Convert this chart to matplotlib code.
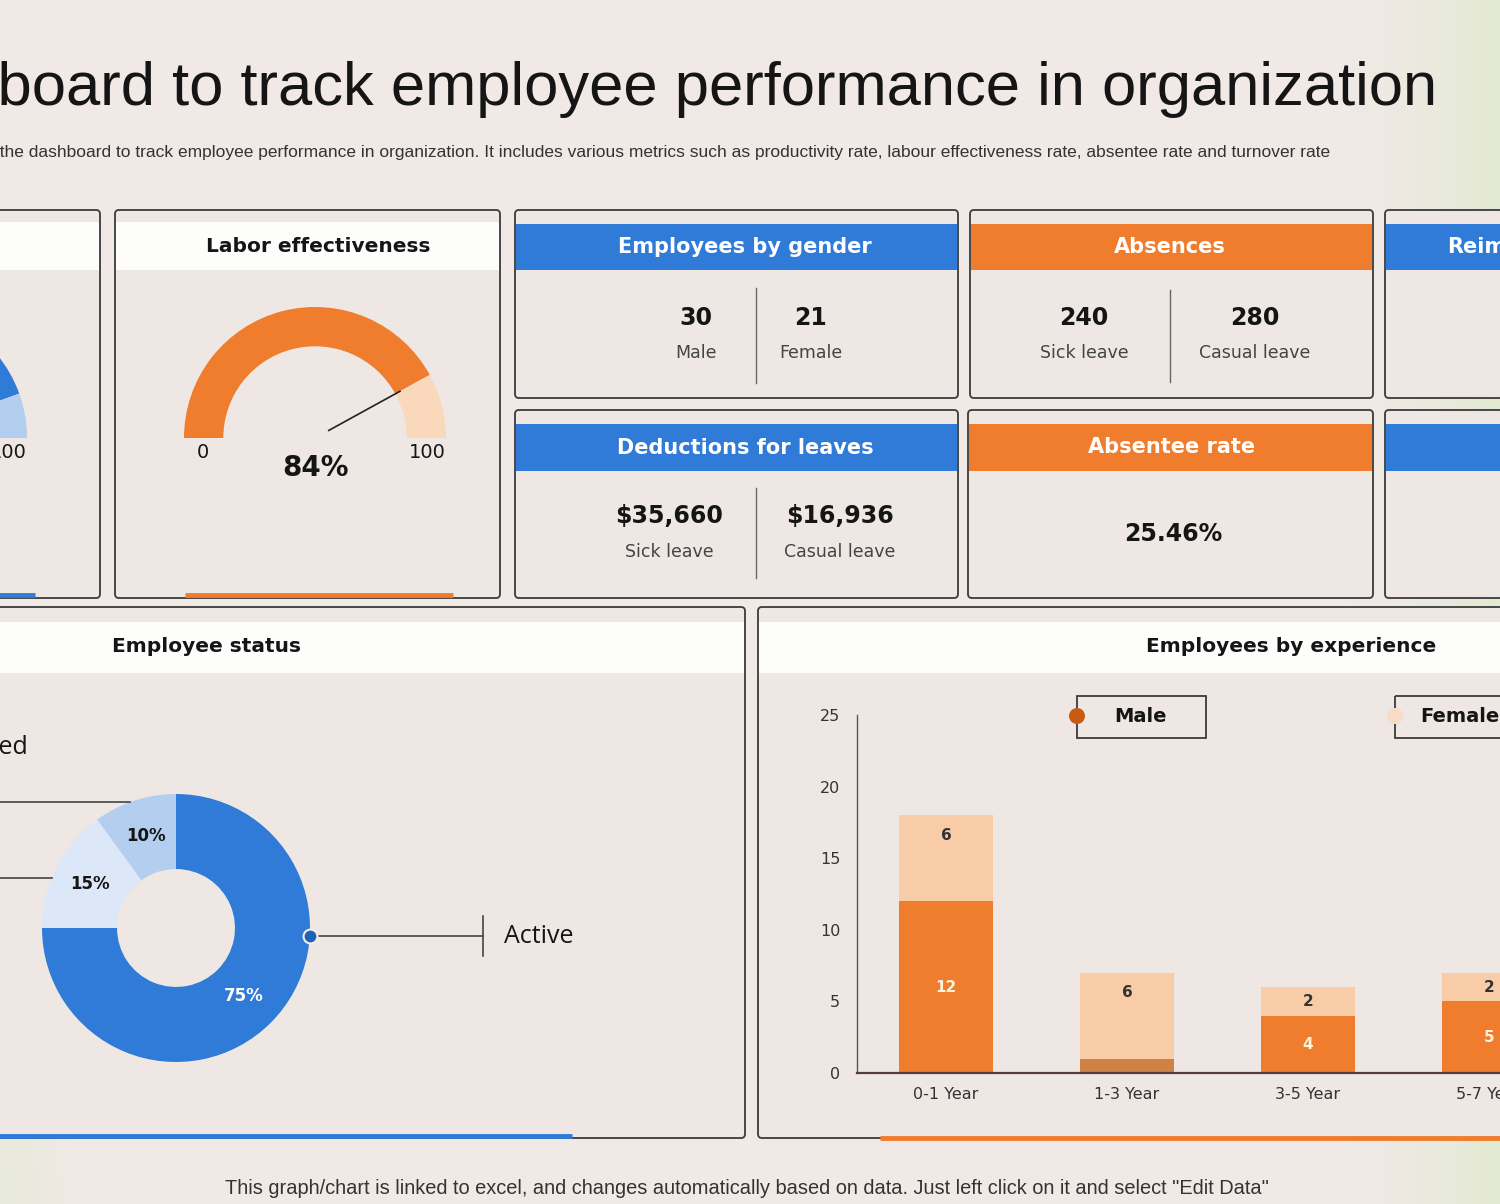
import numpy as np
import matplotlib
matplotlib.use('Agg')
import matplotlib.pyplot as plt
from matplotlib.patches import FancyBboxPatch, Rectangle, Circle
from matplotlib import font_manager as fm

W, H = 1500, 1204

# ----- chart data ----- #
title = "Dashboard to track employee performance in organization"
title_visible = "board to track employee performance in organization"
subtitle = ("This slide covers the dashboard to track employee performance in organization. It includes "
            "various metrics such as productivity rate, labour effectiveness rate, absentee rate and turnover rate")
footnote = ('This graph/chart is linked to excel, and changes automatically based on data. '
            'Just left click on it and select "Edit Data"')

productivity_rate = 89
labor_effectiveness = 84

gender_labels = ['Male', 'Female']
gender_counts = [30, 21]
absence_labels = ['Sick leave', 'Casual leave']
absence_days = [240, 280]
deduction_labels = ['Sick leave', 'Casual leave']
deduction_amounts = [35660, 16936]
absentee_rate = 25.46

status_labels = ['Active', 'On leave', 'Resigned']
status_share = [75, 15, 10]

exp_groups = ['0-1 Year', '1-3 Year', '3-5 Year', '5-7 Year']
exp_male = [12, 1, 4, 5]
exp_female = [6, 6, 2, 2]

# ----- colours ----- #
BLUE = '#2F7BD7'
BLUE_MID = '#B4CEF0'
BLUE_LIGHT = '#DCE7F7'
ORANGE = '#EF7D2D'
PEACH = '#F9CCA8'
GAUGE_REST = '#FAD8BC'
PANEL = '#EEE7E4'
EDGE = '#3b3b3b'
TXT = '#151515'
SUB = '#444444'

names = {f.name for f in fm.fontManager.ttflist}
NARROW = 'Liberation Sans Narrow' if 'Liberation Sans Narrow' in names else 'Liberation Sans'

fig = plt.figure(figsize=(15, 12.04), dpi=100)
bg = fig.add_axes([0, 0, 1, 1])

# background with greenish tint at the edges
X, Y = np.meshgrid(np.linspace(0, 1, 300), np.linspace(0, 1, 240))
base = np.array([240, 233, 230]) / 255
green = np.array([226, 234, 210]) / 255
wr = np.clip((X - 0.9) / 0.1, 0, 1) ** 1.5
wl = np.clip((0.05 - X) / 0.05, 0, 1) * np.clip((Y - 0.55) / 0.45, 0, 1)
w = np.maximum(wr, wl * 0.6)
img = base * (1 - w[..., None]) + green * w[..., None]
bg.imshow(img, extent=[0, W, H, 0], aspect='auto', zorder=0)
bg.set_xlim(0, W)
bg.set_ylim(H, 0)
bg.axis('off')


def panel(x0, y0, x1, y1):
    bg.add_patch(FancyBboxPatch((x0, y0), x1 - x0, y1 - y0,
                                boxstyle='round,pad=0,rounding_size=4',
                                fc=PANEL, ec=EDGE, lw=1.3, zorder=2))


def band(x0, x1, y0, y1, color, alpha=1.0):
    bg.add_patch(Rectangle((x0 + 1, y0), x1 - x0 - 2, y1 - y0, fc=color, ec='none',
                           alpha=alpha, zorder=3))


def accent(x0, x1, y, color):
    bg.plot([x0, x1], [y, y], color=color, lw=3.5, solid_capstyle='butt', zorder=4)


def px_axes(x0, y0, x1, y1):
    return fig.add_axes([x0 / W, 1 - y1 / H, (x1 - x0) / W, (y1 - y0) / H])


def unit_axes(x0, y0, x1, y1, cx, cy, r):
    ax = px_axes(x0, y0, x1, y1)
    ax.patch.set_alpha(0)
    return ax, ((x0 - cx) / r, (x1 - cx) / r), ((cy - y1) / r, (cy - y0) / r)


def fit_size(s, width_px, size, **kw):
    r = fig.canvas.get_renderer()
    t = bg.text(0, 0, s, fontsize=size, **kw)
    wpx = t.get_window_extent(r).width
    t.remove()
    return size * width_px / wpx


# ----- title ----- #
ts = fit_size(title_visible, 1437, 46, family=NARROW)
ts = min(max(ts, 38), 50)
bg.text(1437, 105, title, ha='right', va='baseline', fontsize=ts, family=NARROW, color=TXT, zorder=5)
bg.text(1330, 157, subtitle, ha='right', va='baseline', fontsize=12.5, family=NARROW, color='#333', zorder=5)
fs = fit_size(footnote, 1046, 12, family=NARROW)
bg.text(747, 1194, footnote, ha='center', va='baseline', fontsize=fs, family=NARROW, color='#333', zorder=5)

# ----- panel frames ----- #
panel(-300, 210, 100, 598)
panel(115, 210, 500, 598)
for (x0, x1) in [(515, 958), (970, 1373), (1385, 1800)]:
    panel(x0, 210, x1, 398)
for (x0, x1) in [(515, 958), (968, 1373), (1385, 1800)]:
    panel(x0, 410, x1, 598)
panel(-400, 607, 745, 1138)
panel(758, 607, 1900, 1138)

band(-300, 100, 222, 270, 'white', 0.92)
band(115, 500, 222, 270, 'white', 0.92)
band(-400, 745, 622, 673, 'white', 0.92)
band(758, 1900, 622, 673, 'white', 0.92)

accent(-238, 35, 595, BLUE)
accent(185, 453, 595, ORANGE)
accent(-400, 572, 1136, BLUE)
accent(880, 1900, 1138, ORANGE)

hdr = dict(ha='center', va='center', fontsize=15, fontweight='bold', color='white', zorder=6)
dark_hdr = dict(ha='center', va='center', fontsize=14.5, fontweight='bold', color=TXT, zorder=6)
val = dict(ha='center', va='center', fontsize=17, fontweight='bold', color=TXT, zorder=6)
lab = dict(ha='center', va='center', fontsize=12.5, color=SUB, zorder=6)


def kpi_pair(x0, x1, y_band, color, head, head_x, values, labels, xs, divx, y_val, y_lab, div_y):
    band(x0, x1, y_band[0], y_band[1], color)
    bg.text(head_x, (y_band[0] + y_band[1]) / 2, head, **hdr)
    for xv, v, l in zip(xs, values, labels):
        bg.text(xv, y_val, v, **val)
        bg.text(xv, y_lab, l, **lab)
    bg.plot([divx, divx], div_y, color='#666', lw=1, zorder=6)


kpi_pair(515, 958, (224, 270), BLUE, 'Employees by gender', 745,
         [str(v) for v in gender_counts], gender_labels, [696, 811], 756, 318, 353, (288, 383))
kpi_pair(970, 1373, (224, 270), ORANGE, 'Absences', 1170,
         [str(v) for v in absence_days], absence_labels, [1084, 1255], 1170, 318, 353, (290, 382))
kpi_pair(515, 958, (424, 471), BLUE, 'Deductions for leaves', 745,
         ['${:,}'.format(v) for v in deduction_amounts], deduction_labels, [669, 840], 756, 516, 552, (488, 578))

band(968, 1373, 424, 471, ORANGE)
bg.text(1172, 447, 'Absentee rate', **hdr)
bg.text(1173, 534, '{:.2f}%'.format(absentee_rate), **val)

band(1385, 1800, 224, 270, BLUE)
bg.text(1447, 247, 'Reimbursements', ha='left', va='center', fontsize=15, fontweight='bold',
        color='white', zorder=6)
band(1385, 1800, 424, 471, BLUE)

bg.text(318, 247, 'Labor effectiveness', **dark_hdr)
bg.text(-100, 247, 'Productivity rate', **dark_hdr)
bg.text(207, 647, 'Employee status', **dark_hdr)
bg.text(1291, 647, 'Employees by experience', **dark_hdr)


# ----- gauges ----- #
def gauge(ax, xl, yl, value, main, rest):
    ax.pie([value, 100 - value, 100], startangle=180, counterclock=False,
           colors=[main, rest, 'none'], wedgeprops=dict(width=0.30, edgecolor='none'))
    ang = np.radians(180 - 180 * value / 100)
    ax.plot([0.12 * np.cos(ang), 0.74 * np.cos(ang)], [0.12 * np.sin(ang), 0.74 * np.sin(ang)],
            color='#222', lw=1.2)
    ax.text(-0.855, -0.11, '0', ha='center', va='center', fontsize=14, color=TXT, clip_on=False)
    ax.text(0.855, -0.11, '100', ha='center', va='center', fontsize=14, color=TXT, clip_on=False)
    ax.text(0, -0.23, '{}%'.format(value), ha='center', va='center', fontsize=20, color=TXT,
            fontweight='bold', clip_on=False)
    ax.set_xlim(*xl)
    ax.set_ylim(*yl)
    ax.axis('off')


ax_g, xl, yl = unit_axes(115, 275, 500, 590, 315, 438, 131)
gauge(ax_g, xl, yl, labor_effectiveness, ORANGE, GAUGE_REST)
ax_p, xl, yl = unit_axes(0, 275, 100, 590, -104, 438, 131)
gauge(ax_p, xl, yl, productivity_rate, BLUE, BLUE_MID)

# ----- employee status donut ----- #
ax_d, xl, yl = unit_axes(0, 680, 740, 1130, 176, 928, 134)
wedges, texts, autotexts = ax_d.pie(status_share, startangle=90, counterclock=False,
                                    colors=[BLUE, BLUE_LIGHT, BLUE_MID],
                                    wedgeprops=dict(width=0.56, edgecolor='none'),
                                    autopct='%d%%', pctdistance=0.72)
for t, c in zip(autotexts, ['white', TXT, TXT]):
    t.set_color(c)
    t.set_fontsize(12)
    t.set_fontweight('bold')

a = np.radians(-3.5)
ax_d.plot([np.cos(a), 2.29], [np.sin(a), np.sin(a)], color='#444', lw=1.2)
ax_d.plot([2.29, 2.29], [np.sin(a) - 0.15, np.sin(a) + 0.15], color='#444', lw=1.2)
ax_d.plot([np.cos(a)], [np.sin(a)], 'o', ms=10, color='#1F62B5', mec='#F4EEEA', mew=1.5)
ax_d.text(2.45, np.sin(a), status_labels[0], ha='left', va='center', fontsize=18,
          family='Open Sans', color=TXT)
for ang in [158, 110]:
    r = np.radians(ang)
    ax_d.plot([np.cos(r), -3], [np.sin(r), np.sin(r)], color='#444', lw=1.2)
ax_d.text(-1.104, 1.35, status_labels[2], ha='right', va='center', fontsize=18,
          family='Open Sans', color=TXT)
ax_d.text(-1.6, 0.75, status_labels[1], ha='right', va='center', fontsize=18,
          family='Open Sans', color=TXT)
ax_d.set_xlim(*xl)
ax_d.set_ylim(*yl)
ax_d.axis('off')

# ----- employees by experience ----- #
ax_b = px_axes(857, 715, 1500, 1073)
ax_b.patch.set_alpha(0)
x = np.arange(len(exp_groups))
bw = 0.52
male_colors = [ORANGE if m >= 1.5 else '#D08244' for m in exp_male]
ax_b.bar(x, exp_male, width=bw, color=male_colors, zorder=2)
ax_b.bar(x, exp_female, bottom=exp_male, width=bw, color=PEACH, zorder=2)
for i in x:
    m, f = exp_male[i], exp_female[i]
    if m >= 1.5:
        ax_b.text(i, m / 2, str(m), ha='center', va='center', fontsize=11, fontweight='bold',
                  color='#FFF3E0', zorder=3)
    ax_b.text(i, m + f - min(1.4, f / 2), str(f), ha='center', va='center', fontsize=11,
              fontweight='bold', color='#333', zorder=3)
ax_b.set_xlim(-0.4917, 3.0608)
ax_b.set_ylim(0, 25)
ax_b.set_yticks([0, 5, 10, 15, 20, 25])
ax_b.set_xticks(x)
ax_b.set_xticklabels(exp_groups)
ax_b.tick_params(axis='both', length=0, labelsize=11.5, labelcolor='#333')
ax_b.tick_params(axis='y', pad=12)
ax_b.tick_params(axis='x', pad=10)
for s in ['top', 'right']:
    ax_b.spines[s].set_visible(False)
ax_b.spines['left'].set_color('#555')
ax_b.spines['left'].set_linewidth(1)
ax_b.spines['bottom'].set_color('#5a3b3b')
ax_b.spines['bottom'].set_linewidth(1.6)

# legend boxes
for (x0, x1, lbl, dot, tx, ha) in [(1077, 1206, 'Male', '#C95A12', 1141, 'center'),
                                   (1395, 1560, 'Female', '#F6DCC6', 1420, 'left')]:
    bg.add_patch(Rectangle((x0, 696), x1 - x0, 42, fc='none', ec=EDGE, lw=1.3, zorder=5))
    bg.add_patch(Circle((x0, 716), 8, fc=dot, ec='none', zorder=6))
    bg.text(tx, 717, lbl, ha=ha, va='center', fontsize=14, fontweight='bold', color=TXT, zorder=6)

fig.savefig('out.png', dpi=100)
